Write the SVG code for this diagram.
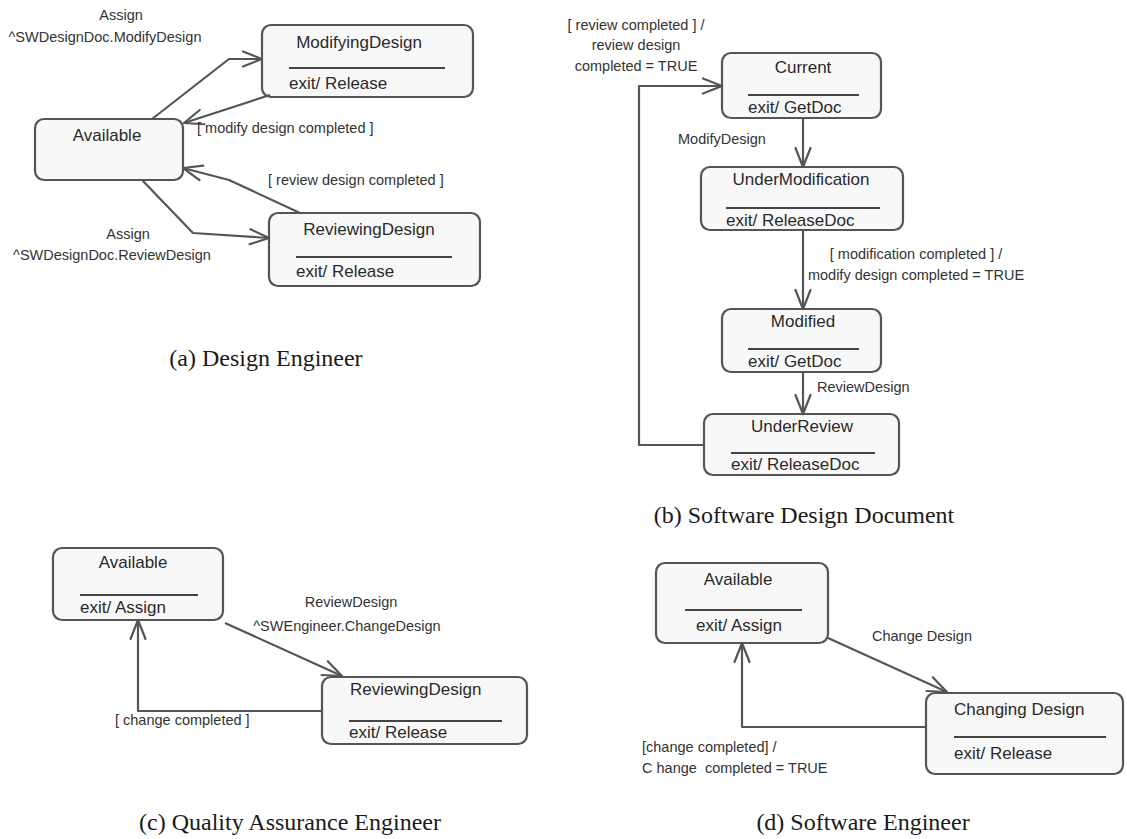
<svg xmlns="http://www.w3.org/2000/svg" width="1127" height="839" viewBox="0 0 1127 839">
<style>
.st{fill:#f8f8f8;stroke:#555;stroke-width:2.2}
.dv{stroke:#444;stroke-width:2}
.cn{fill:none;stroke:#555;stroke-width:2.2;stroke-linejoin:round}
.t{font-family:"Liberation Sans",Arial,sans-serif;font-size:17px;fill:#2a2a2a}
.l{font-family:"Liberation Sans",Arial,sans-serif;font-size:14.5px;fill:#333}
.m{text-anchor:middle}
.cap{font-family:"Liberation Serif","Times New Roman",serif;font-size:24px;fill:#1a1a1a;text-anchor:middle}
</style>
<defs>
<marker id="ah" markerUnits="userSpaceOnUse" markerWidth="26" markerHeight="22" viewBox="-22 -11 26 22" refX="0" refY="0" orient="auto">
<path d="M-19,-7.5 L0,0 L-19,7.5" fill="none" stroke="#555" stroke-width="2.2" stroke-linecap="round" stroke-linejoin="round"/>
</marker>
</defs>
<rect width="1127" height="839" fill="#fff"/>

<!-- Panel (a) -->
<g id="a-modifying">
<rect class="st" x="262" y="25" width="211" height="72" rx="9"/>
<text class="t m" x="359" y="48">ModifyingDesign</text>
<line class="dv" x1="289" y1="68" x2="445" y2="68"/>
<text class="t" x="289" y="89">exit/ Release</text>
</g>
<g id="a-available">
<rect class="st" x="35" y="119" width="148" height="61" rx="9"/>
<text class="t m" x="107" y="141">Available</text>
</g>
<g id="a-reviewing">
<rect class="st" x="269" y="213" width="211" height="73" rx="9"/>
<text class="t m" x="369" y="235">ReviewingDesign</text>
<line class="dv" x1="296" y1="257" x2="452" y2="257"/>
<text class="t" x="296" y="277">exit/ Release</text>
</g>

<!-- Panel (b) -->
<g id="b-current">
<rect class="st" x="722" y="53" width="159" height="65" rx="9"/>
<text class="t m" x="803" y="73">Current</text>
<line class="dv" x1="748" y1="95" x2="859" y2="95"/>
<text class="t" x="748" y="113">exit/ GetDoc</text>
</g>
<g id="b-undermod">
<rect class="st" x="701" y="167" width="202" height="63" rx="9"/>
<text class="t m" x="801" y="185">UnderModification</text>
<line class="dv" x1="726" y1="208" x2="880" y2="208"/>
<text class="t" x="726" y="226">exit/ ReleaseDoc</text>
</g>
<g id="b-modified">
<rect class="st" x="722" y="309" width="159" height="63" rx="9"/>
<text class="t m" x="803" y="327">Modified</text>
<line class="dv" x1="748" y1="349" x2="859" y2="349"/>
<text class="t" x="748" y="367">exit/ GetDoc</text>
</g>
<g id="b-underreview">
<rect class="st" x="704" y="414" width="195" height="61" rx="9"/>
<text class="t m" x="802" y="432">UnderReview</text>
<line class="dv" x1="731" y1="453" x2="875" y2="453"/>
<text class="t" x="731" y="470">exit/ ReleaseDoc</text>
</g>

<!-- Panel (c) -->
<g id="c-available">
<rect class="st" x="53" y="548" width="170" height="72" rx="9"/>
<text class="t m" x="133" y="568">Available</text>
<line class="dv" x1="80" y1="595" x2="198" y2="595"/>
<text class="t" x="80" y="613">exit/ Assign</text>
</g>
<g id="c-reviewing">
<rect class="st" x="322" y="677" width="205" height="67" rx="9"/>
<text class="t" x="350" y="695">ReviewingDesign</text>
<line class="dv" x1="349" y1="721" x2="502" y2="721"/>
<text class="t" x="349" y="738">exit/ Release</text>
</g>

<!-- Panel (d) -->
<g id="d-available">
<rect class="st" x="656" y="563" width="172" height="80" rx="9"/>
<text class="t m" x="738" y="585">Available</text>
<line class="dv" x1="685" y1="610" x2="802" y2="610"/>
<text class="t" x="696" y="631">exit/ Assign</text>
</g>
<g id="d-changing">
<rect class="st" x="926" y="693" width="197" height="81" rx="9"/>
<text class="t" x="954" y="715">Changing Design</text>
<line class="dv" x1="954" y1="737" x2="1106" y2="737"/>
<text class="t" x="954" y="759">exit/ Release</text>
</g>

<!-- Connectors -->
<g id="connectors">
<polyline class="cn" points="152,119 229,59 262,59" marker-end="url(#ah)"/>
<line class="cn" x1="270" y1="95" x2="184" y2="123" marker-end="url(#ah)"/>
<polyline class="cn" points="300,213 229,180 183,168" marker-end="url(#ah)"/>
<polyline class="cn" points="142,180 193,233 269,238" marker-end="url(#ah)"/>

<polyline class="cn" points="704,445 639,445 639,86 722,86" marker-end="url(#ah)"/>
<line class="cn" x1="803" y1="118" x2="803" y2="167" marker-end="url(#ah)"/>
<line class="cn" x1="803" y1="230" x2="803" y2="309" marker-end="url(#ah)"/>
<line class="cn" x1="803" y1="372" x2="803" y2="414" marker-end="url(#ah)"/>

<line class="cn" x1="225" y1="623" x2="342" y2="676" marker-end="url(#ah)"/>
<polyline class="cn" points="322,711 138,711 138,620" marker-end="url(#ah)"/>

<line class="cn" x1="828" y1="638" x2="947" y2="692" marker-end="url(#ah)"/>
<polyline class="cn" points="926,727 742,727 742,643" marker-end="url(#ah)"/>
</g>

<!-- Labels -->
<g id="labels">
<text class="l m" x="121" y="20">Assign</text>
<text class="l m" x="105" y="42">^SWDesignDoc.ModifyDesign</text>
<text class="l" x="197" y="133">[ modify design completed ]</text>
<text class="l" x="268" y="185">[ review design completed ]</text>
<text class="l m" x="128" y="239">Assign</text>
<text class="l m" x="112" y="260">^SWDesignDoc.ReviewDesign</text>

<text class="l m" x="636" y="30">[ review completed ] /</text>
<text class="l m" x="636" y="50">review design</text>
<text class="l m" x="636" y="71">completed = TRUE</text>
<text class="l" x="678" y="144">ModifyDesign</text>
<text class="l m" x="916" y="259">[ modification completed ] /</text>
<text class="l m" x="916" y="280">modify design completed = TRUE</text>
<text class="l" x="817" y="392">ReviewDesign</text>

<text class="l m" x="351" y="607">ReviewDesign</text>
<text class="l m" x="347" y="631">^SWEngineer.ChangeDesign</text>
<text class="l" x="115" y="725">[ change completed ]</text>

<text class="l" x="872" y="641">Change Design</text>
<text class="l" x="642" y="752">[change completed] /</text>
<text class="l" x="642" y="773" style="white-space:pre">C hange  completed = TRUE</text>
</g>

<!-- Captions -->
<g id="captions">
<text class="cap" x="266" y="366">(a) Design Engineer</text>
<text class="cap" x="804" y="523">(b) Software Design Document</text>
<text class="cap" x="290" y="830">(c) Quality Assurance Engineer</text>
<text class="cap" x="863" y="830">(d) Software Engineer</text>
</g>
</svg>
